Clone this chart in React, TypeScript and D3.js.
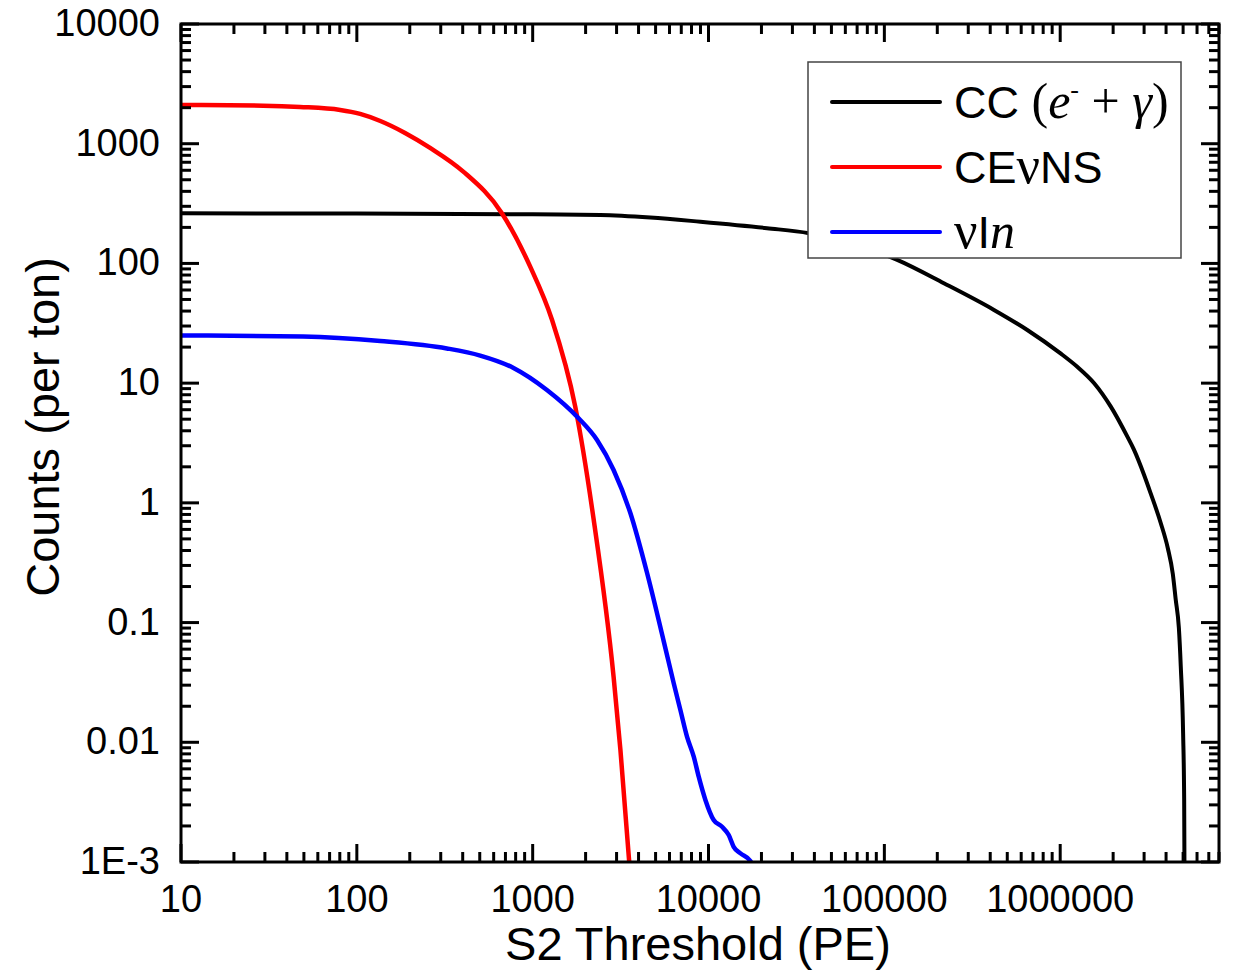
import React, { useEffect, useRef } from 'react';
import * as d3 from 'd3';

// --- data: [S2 threshold (PE), counts per ton] ---
const ccSeries: [number, number][] = [
  [10, 262], [100, 261], [1000, 257], [2430, 254], [4667, 242], [8995, 223], [21500, 197],
  [37200, 179], [118300, 107], [218000, 68.3], [420000, 40.9], [650000, 27.8],
  [1.0e6, 17.8], [1.25e6, 13.7], [1.56e6, 9.98], [1.94e6, 6.36], [2.41e6, 3.57],
  [2.63e6, 2.77], [3.0e6, 1.71], [3.27e6, 1.2], [3.73e6, 0.679], [4.09e6, 0.42],
  [4.37e6, 0.255], [4.54e6, 0.155], [4.73e6, 0.0902], [4.85e6, 0.0429], [5.0e6, 0.0119],
  [5.07e6, 0.0033], [5.09e6, 0.0009],
];
const cevnsSeries: [number, number][] = [
  [10, 2110], [29.3, 2080], [47.5, 2028], [80.4, 1915], [104.4, 1775], [136, 1549],
  [188, 1231], [261, 923], [403, 585], [668, 263], [968, 94], [1289, 33.7],
  [1746, 6.36], [2224, 0.72], [2885, 0.0353], [3155, 0.00863], [3560, 0.0009],
];
const vinSeries: [number, number][] = [
  [10, 25.0], [49.4, 24.5], [136, 22.5], [325, 19.5], [503, 17.0], [778, 13.4],
  [1205, 8.77], [1824, 5.09], [2323, 3.35], [2885, 1.88], [3597, 0.818],
  [4477, 0.258], [5560, 0.07], [6340, 0.0311], [6918, 0.0186], [7551, 0.0111],
  [8241, 0.00759], [8795, 0.00516], [9600, 0.0033], [10700, 0.00224], [11940, 0.00197],
  [13030, 0.00168], [13900, 0.00134], [15200, 0.00118], [17300, 0.00102], [18000, 0.0009],
];

const xMajor = [10, 100, 1000, 10000, 100000, 1000000];
const xTickLabels = ['10', '100', '1000', '10000', '100000', '1000000'];
const yMajor = [1e4, 1e3, 100, 10, 1, 0.1, 0.01, 0.001];
const yTickLabels = ['10000', '1000', '100', '10', '1', '0.1', '0.01', '1E-3'];

const SANS = '"Liberation Sans", Arial, sans-serif';
const SERIF = '"Liberation Serif", "Times New Roman", serif';

const W = 1233, H = 970;
const plot = { left: 181, right: 1219, top: 24, bottom: 862 };

export default function App() {
  const svgRef = useRef<SVGSVGElement | null>(null);

  useEffect(() => {
    if (!svgRef.current) return;
    const svg = d3.select(svgRef.current);
    svg.selectAll('*').remove();

    const x = d3.scaleLog().domain([10, 8e6]).range([plot.left, plot.right]);
    const y = d3.scaleLog().domain([1e-3, 1e4]).range([plot.bottom, plot.top]);

    const isMajor = (v: number) => Math.abs(Math.log10(v) - Math.round(Math.log10(v))) < 1e-9;
    const xMinor = x.ticks().filter(v => !isMajor(v));
    const yMinor = y.ticks().filter(v => !isMajor(v));

    // --- curves (clipped to the frame) ---
    svg.append('clipPath').attr('id', 'plot-clip')
      .append('rect')
      .attr('x', plot.left).attr('y', plot.top)
      .attr('width', plot.right - plot.left).attr('height', plot.bottom - plot.top);

    const line = d3.line<[number, number]>()
      .x(d => x(d[0]))
      .y(d => y(d[1]))
      .curve(d3.curveMonotoneX);

    const curves = svg.append('g').attr('clip-path', 'url(#plot-clip)');
    const series = [
      { data: ccSeries, color: '#000000', width: 4 },
      { data: cevnsSeries, color: '#ff0000', width: 4.5 },
      { data: vinSeries, color: '#0000ff', width: 4.5 },
    ];
    series.forEach(s => {
      curves.append('path')
        .attr('d', line(s.data))
        .attr('fill', 'none')
        .attr('stroke', s.color)
        .attr('stroke-width', s.width)
        .attr('stroke-linejoin', 'round');
    });

    // --- ticks on all four sides, pointing inward ---
    const majorLen = 18, minorLen = 10, tickW = 3;
    const ticks = svg.append('g').attr('stroke', '#000').attr('stroke-width', tickW);
    const addX = (vals: number[], len: number) => {
      vals.forEach(v => {
        ticks.append('line').attr('x1', x(v)).attr('x2', x(v)).attr('y1', plot.bottom).attr('y2', plot.bottom - len);
        ticks.append('line').attr('x1', x(v)).attr('x2', x(v)).attr('y1', plot.top).attr('y2', plot.top + len);
      });
    };
    const addY = (vals: number[], len: number) => {
      vals.forEach(v => {
        ticks.append('line').attr('y1', y(v)).attr('y2', y(v)).attr('x1', plot.left).attr('x2', plot.left + len);
        ticks.append('line').attr('y1', y(v)).attr('y2', y(v)).attr('x1', plot.right).attr('x2', plot.right - len);
      });
    };
    addX(xMinor, minorLen); addX(xMajor, majorLen);
    addY(yMinor, minorLen); addY(yMajor, majorLen);

    // frame
    svg.append('rect')
      .attr('x', plot.left).attr('y', plot.top)
      .attr('width', plot.right - plot.left).attr('height', plot.bottom - plot.top)
      .attr('fill', 'none').attr('stroke', '#000').attr('stroke-width', 3);

    // --- tick labels ---
    const labels = svg.append('g').attr('font-family', SANS).attr('font-size', 38).attr('fill', '#000');
    xMajor.forEach((v, i) => {
      labels.append('text').attr('x', x(v)).attr('y', 912).attr('text-anchor', 'middle').text(xTickLabels[i]);
    });
    yMajor.forEach((v, i) => {
      labels.append('text').attr('x', 160).attr('y', y(v) + 12).attr('text-anchor', 'end').text(yTickLabels[i]);
    });

    // --- axis titles ---
    svg.append('text')
      .attr('x', 698).attr('y', 960).attr('text-anchor', 'middle')
      .attr('font-family', SANS).attr('font-size', 47)
      .text('S2 Threshold (PE)');
    svg.append('text')
      .attr('transform', 'translate(59,427) rotate(-90)')
      .attr('text-anchor', 'middle')
      .attr('font-family', SANS).attr('font-size', 47)
      .text('Counts (per ton)');

    // --- legend ---
    const lg = svg.append('g');
    lg.append('rect')
      .attr('x', 808).attr('y', 62).attr('width', 373).attr('height', 196)
      .attr('fill', '#fff').attr('stroke', '#444').attr('stroke-width', 1.5);
    const rowY = [102, 167, 232];
    series.forEach((s, i) => {
      lg.append('line')
        .attr('x1', 832).attr('x2', 940).attr('y1', rowY[i]).attr('y2', rowY[i])
        .attr('stroke', s.color).attr('stroke-width', 4).attr('stroke-linecap', 'round');
    });
    const fs = 45;
    // row 1: CC (e⁻ + γ)
    const t1 = lg.append('text').attr('x', 954).attr('y', rowY[0] + 16).attr('font-family', SANS).attr('font-size', fs);
    t1.append('tspan').text('CC ');
    t1.append('tspan').attr('font-family', SERIF).attr('font-size', 50).text('(');
    t1.append('tspan').attr('font-family', SERIF).attr('font-size', 50).attr('font-style', 'italic').text('e');
    t1.append('tspan').attr('font-family', SERIF).attr('font-size', 26).attr('dy', -20).text('-');
    t1.append('tspan').attr('font-family', SERIF).attr('font-size', 50).attr('dy', 20).text(' + ');
    t1.append('tspan').attr('font-family', SERIF).attr('font-size', 50).attr('font-style', 'italic').text('γ');
    t1.append('tspan').attr('font-family', SERIF).attr('font-size', 50).text(')');
    // row 2: CEνNS
    const t2 = lg.append('text').attr('x', 954).attr('y', rowY[1] + 16).attr('font-family', SANS).attr('font-size', fs);
    t2.append('tspan').text('CE');
    t2.append('tspan').attr('font-family', SERIF).attr('font-size', 52).text('ν');
    t2.append('tspan').text('NS');
    // row 3: νIn
    const t3 = lg.append('text').attr('x', 954).attr('y', rowY[2] + 16).attr('font-family', SANS).attr('font-size', fs);
    t3.append('tspan').attr('font-family', SERIF).attr('font-size', 52).text('ν');
    t3.append('tspan').text('I');
    t3.append('tspan').attr('font-family', SERIF).attr('font-size', 50).attr('font-style', 'italic').text('n');
  }, []);

  return (
    <svg
      ref={svgRef}
      width={W}
      height={H}
      style={{ position: 'absolute', left: 0, top: 0, display: 'block', background: '#fff' }}
    />
  );
}
